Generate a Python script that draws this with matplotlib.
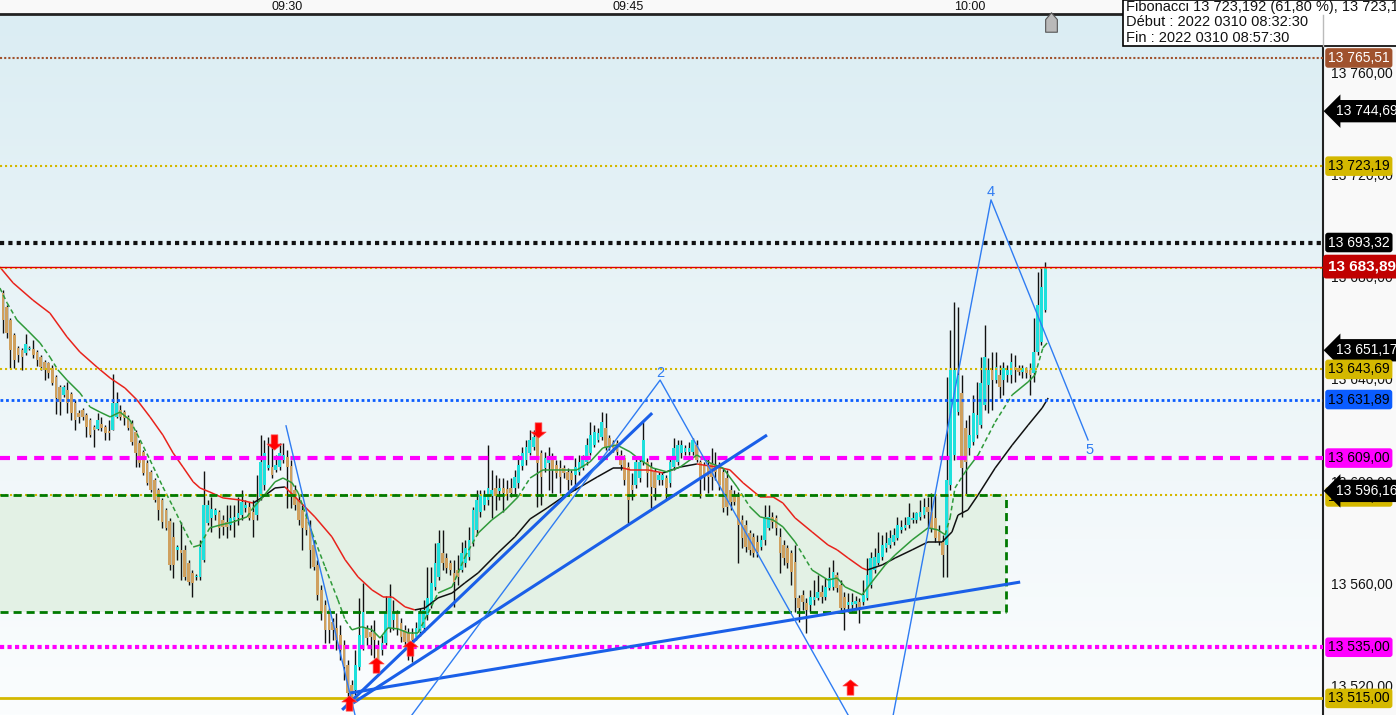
import numpy as np
import matplotlib.pyplot as plt
import matplotlib.transforms as mtransforms
from matplotlib.collections import LineCollection
from matplotlib.colors import LinearSegmentedColormap
from matplotlib.lines import Line2D
from matplotlib.patches import Rectangle
from matplotlib.path import Path

plt.rcParams['font.family'] = ['Liberation Sans', 'DejaVu Sans']

# 10 s candles, first one at 09:17:30
start_sec = 9 * 3600 + 17 * 60 + 30
step_sec = 10
time_labels = ['09:30', '09:45', '10:00']

opens = [13673.6, 13668.1, 13663.0, 13657.1, 13652.1, 13651.3, 13650.1, 13651.7, 13651.7, 13650.5,
         13648.5, 13646.6, 13646.2, 13644.2, 13640.7, 13636.8, 13633.7, 13635.6, 13634.1, 13630.5,
         13626.6, 13627.8, 13625.9, 13623.9, 13621.2, 13620.4, 13622.3, 13621.2, 13619.6, 13620.0,
         13625.1, 13627.8, 13627.0, 13625.1, 13622.7, 13619.2, 13614.9, 13611.4, 13607.1, 13603.6,
         13600.4, 13596.5, 13592.6, 13588.7, 13584.4, 13578.2, 13573.1, 13573.1, 13573.1, 13568.0,
         13564.1, 13562.5, 13562.5, 13569.2, 13583.6, 13585.6, 13586.7, 13587.9, 13584.8, 13584.0,
         13582.8, 13584.8, 13585.6, 13586.7, 13589.5, 13589.9, 13587.9, 13586.7, 13593.8, 13598.5,
         13605.1, 13605.5, 13604.4, 13605.5, 13608.3, 13609.4, 13605.9, 13596.5, 13592.6, 13588.7,
         13585.6, 13582.1, 13575.0, 13567.2, 13557.4, 13551.5, 13549.6, 13544.9, 13542.6, 13539.8,
         13535.9, 13528.1, 13520.3, 13518.3, 13527.3, 13535.9, 13542.6, 13541.0, 13540.6, 13535.9,
         13534.0, 13536.7, 13542.6, 13545.7, 13548.4, 13544.5, 13541.8, 13540.6, 13540.2, 13539.0,
         13541.0, 13542.6, 13547.6, 13551.5, 13558.6, 13562.5, 13571.9, 13569.9, 13568.0, 13564.1,
         13565.2, 13565.2, 13568.0, 13570.3, 13575.8, 13580.9, 13587.9, 13590.7, 13592.6, 13594.2,
         13597.3, 13596.1, 13597.3, 13596.9, 13597.3, 13597.3, 13599.3, 13605.9, 13608.3,
         13611.0, 13613.4, 13618.8, 13611.0, 13605.1, 13607.1, 13608.3, 13606.3, 13605.1, 13605.1,
         13603.6, 13603.2, 13602.4, 13603.6, 13605.1, 13607.5, 13611.0, 13614.1, 13616.1, 13617.3,
         13620.8, 13616.9, 13615.3, 13614.9, 13610.2, 13609.0, 13605.5, 13598.5, 13598.5, 13601.2,
         13607.5, 13607.5, 13605.5, 13603.6, 13600.4, 13600.4, 13601.2, 13599.3, 13605.5, 13607.5,
         13611.0, 13611.4, 13611.4, 13611.4, 13614.1, 13607.5, 13606.3, 13606.3, 13607.1, 13606.3,
         13605.5, 13603.6, 13601.2, 13596.5, 13594.6, 13593.8, 13584.8, 13582.8, 13579.7, 13578.2,
         13576.2, 13574.2, 13577.0, 13581.7, 13586.0, 13585.6, 13578.2, 13575.0, 13573.9, 13571.9,
         13568.4, 13554.3, 13555.5, 13552.3, 13551.5, 13553.5, 13554.3, 13556.6, 13554.7, 13558.2,
         13558.6, 13563.3, 13559.4, 13554.7, 13551.5, 13551.5, 13551.9, 13552.7, 13552.7, 13554.3,
         13559.4, 13565.2, 13568.0, 13570.3, 13573.9, 13575.0, 13576.2, 13577.8, 13580.9, 13581.7,
         13582.8, 13584.8, 13584.8, 13586.0, 13586.7, 13589.9, 13587.9, 13585.6, 13580.1, 13576.2,
         13575.0, 13598.5, 13610.2, 13627.0, 13634.5, 13620.8, 13613.0, 13615.3, 13618.0, 13622.0,
         13629.8, 13637.6, 13643.5, 13639.5, 13641.5, 13639.5, 13641.5, 13641.5, 13644.6, 13644.2,
         13642.7, 13643.5, 13643.5, 13642.3, 13650.5, 13654.4, 13666.9]

highs = [13674.7, 13668.9, 13663.8, 13657.9, 13652.8, 13652.1, 13657.5, 13652.8, 13655.2, 13651.3,
         13649.3, 13647.4, 13646.6, 13645.4, 13641.5, 13637.6, 13637.6, 13638.8, 13634.8, 13631.7,
         13627.8, 13628.6, 13626.6, 13624.7, 13622.0, 13626.6, 13625.1, 13622.0, 13623.9, 13641.9,
         13634.8, 13629.8, 13627.8, 13625.9, 13623.9, 13620.0, 13616.1, 13612.2, 13608.3, 13604.4,
         13601.2, 13597.3, 13593.4, 13589.5, 13585.6, 13584.0, 13575.0, 13584.0, 13575.0, 13569.2,
         13565.2, 13563.7, 13577.0, 13604.0, 13592.6, 13593.8, 13589.5, 13588.7, 13586.7, 13590.7,
         13590.7, 13590.7, 13593.8, 13596.5, 13592.6, 13591.8, 13592.6, 13602.4, 13618.0, 13616.1,
         13617.3, 13616.1, 13610.2, 13614.9, 13614.9, 13612.2, 13608.3, 13598.5, 13594.6, 13590.7,
         13587.9, 13584.8, 13577.0, 13569.2, 13559.4, 13553.5, 13550.4, 13546.5, 13548.4, 13543.7,
         13537.9, 13530.1, 13522.2, 13534.0, 13554.3, 13560.2, 13543.7, 13543.7, 13545.7, 13537.9,
         13539.8, 13555.1, 13559.8, 13553.5, 13549.6, 13546.5, 13543.7, 13542.6, 13542.6, 13544.9,
         13550.4, 13553.5, 13566.4, 13566.4, 13575.8, 13580.9, 13580.9, 13571.9, 13569.2, 13569.2,
         13571.1, 13576.2, 13577.0, 13582.1, 13589.9, 13596.5, 13596.5, 13596.5, 13614.1, 13604.4,
         13602.4, 13601.2, 13601.2, 13600.4, 13601.2, 13604.4, 13610.2, 13613.4, 13616.1,
         13620.0, 13620.0, 13622.0, 13612.2, 13611.4, 13613.4, 13611.0, 13608.3, 13608.3, 13606.3,
         13605.1, 13604.4, 13609.0, 13610.2, 13610.2, 13616.9, 13623.1, 13622.0, 13620.8, 13627.0,
         13626.6, 13618.0, 13616.1, 13616.1, 13612.2, 13610.2, 13607.5, 13603.2, 13609.0, 13609.0,
         13623.1, 13609.0, 13607.5, 13605.1, 13603.6, 13603.6, 13602.4, 13609.0, 13616.9, 13616.1,
         13616.1, 13614.1, 13615.3, 13616.9, 13616.1, 13608.3, 13607.5, 13609.0, 13613.0, 13611.4,
         13607.5, 13605.1, 13604.4, 13598.5, 13596.5, 13595.7, 13586.7, 13584.8, 13580.9, 13579.7,
         13578.9, 13578.9, 13590.7, 13590.7, 13587.9, 13586.7, 13581.7, 13577.0, 13575.0, 13573.1,
         13575.0, 13555.5, 13557.4, 13554.3, 13557.4, 13561.3, 13563.3, 13559.4, 13562.1, 13566.4,
         13569.2, 13564.5, 13561.3, 13556.6, 13556.2, 13556.2, 13555.1, 13554.3, 13561.3, 13569.9,
         13572.3, 13573.9, 13580.1, 13578.9, 13580.1, 13580.9, 13581.7, 13586.0, 13584.8, 13586.0,
         13591.4, 13587.9, 13587.9, 13592.6, 13593.4, 13593.8, 13595.4, 13594.6, 13582.8, 13578.9,
         13640.7, 13659.1, 13670.1, 13668.1, 13641.5, 13623.9, 13625.9, 13633.7, 13638.8, 13648.5,
         13661.1, 13648.2, 13650.5, 13650.5, 13645.4, 13646.6, 13645.4, 13650.1, 13649.3, 13645.4,
         13645.4, 13644.6, 13646.2, 13663.8, 13681.8, 13683.4, 13685.7]

lows = [13657.9, 13656.0, 13644.2, 13644.2, 13646.6, 13643.5, 13649.3, 13651.3, 13648.2, 13645.0,
        13643.5, 13639.5, 13640.3, 13637.6, 13626.2, 13625.9, 13632.9, 13626.6, 13623.9, 13620.0,
        13622.7, 13623.9, 13617.3, 13617.3, 13613.4, 13620.0, 13619.6, 13616.1, 13616.1, 13620.0,
        13624.7, 13623.9, 13622.0, 13620.0, 13614.1, 13605.5, 13605.5, 13602.4, 13598.5, 13595.7,
        13591.8, 13584.8, 13581.7, 13580.9, 13565.2, 13562.1, 13569.2, 13561.3, 13561.3, 13559.4,
        13554.7, 13561.3, 13561.3, 13568.4, 13582.8, 13580.1, 13584.8, 13577.8, 13578.9, 13577.8,
        13580.9, 13578.2, 13582.8, 13584.8, 13587.9, 13584.8, 13578.2, 13584.8, 13592.6, 13596.5,
        13604.4, 13601.2, 13603.6, 13604.4, 13607.1, 13589.5, 13589.5, 13588.7, 13582.8, 13573.1,
        13578.9, 13566.0, 13565.2, 13553.5, 13545.7, 13536.7, 13536.7, 13537.9, 13534.0, 13530.1,
        13522.2, 13515.2, 13512.4, 13516.4, 13526.1, 13534.0, 13535.9, 13532.0, 13530.8, 13525.4,
        13532.0, 13535.9, 13541.0, 13541.8, 13539.8, 13537.1, 13534.7, 13530.1, 13529.3, 13537.9,
        13539.4, 13541.0, 13545.7, 13550.4, 13557.4, 13561.3, 13565.2, 13564.1, 13563.3, 13550.8,
        13559.4, 13564.5, 13566.4, 13569.2, 13574.6, 13578.9, 13586.0, 13588.7, 13590.7, 13585.6,
        13588.7, 13592.6, 13587.9, 13592.6, 13593.8, 13594.6, 13597.3, 13604.4, 13606.3,
        13610.2, 13612.2, 13589.9, 13590.7, 13603.6, 13596.5, 13595.4, 13601.2, 13595.4, 13601.2,
        13596.5, 13598.5, 13596.5, 13602.4, 13604.4, 13606.3, 13610.2, 13613.4, 13615.3, 13616.1,
        13612.2, 13612.2, 13611.4, 13610.2, 13604.4, 13598.5, 13583.6, 13592.6, 13597.3, 13599.7,
        13606.3, 13597.7, 13589.5, 13592.6, 13598.5, 13598.5, 13592.6, 13597.7, 13604.4, 13606.3,
        13609.0, 13610.2, 13610.2, 13610.2, 13607.5, 13593.4, 13596.5, 13595.4, 13596.5, 13600.4,
        13596.5, 13587.9, 13586.7, 13588.7, 13590.7, 13568.0, 13573.9, 13572.3, 13571.1, 13570.3,
        13570.3, 13573.1, 13575.0, 13580.9, 13581.7, 13578.9, 13564.1, 13567.2, 13566.0, 13559.4,
        13548.8, 13544.9, 13549.6, 13540.6, 13548.8, 13551.5, 13553.5, 13552.3, 13553.5, 13557.4,
        13557.4, 13556.6, 13548.8, 13541.8, 13548.8, 13548.8, 13549.6, 13544.5, 13551.5, 13553.5,
        13558.2, 13564.1, 13567.2, 13569.2, 13572.3, 13573.9, 13575.0, 13577.0, 13579.7, 13580.9,
        13581.7, 13583.6, 13583.6, 13584.8, 13585.6, 13581.7, 13580.1, 13576.2, 13575.0, 13562.5,
        13562.5, 13596.5, 13608.3, 13625.9, 13586.0, 13594.6, 13610.2, 13614.1, 13616.9, 13620.8,
        13627.8, 13626.6, 13627.8, 13638.4, 13632.5, 13633.7, 13638.8, 13638.4, 13638.8, 13641.5,
        13640.3, 13640.3, 13633.7, 13638.8, 13649.3, 13653.2, 13666.1]

closes = [13663.0, 13657.9, 13651.3, 13647.4, 13649.3, 13648.5, 13653.6, 13652.1, 13649.3, 13647.4,
          13644.6, 13643.5, 13642.3, 13638.4, 13632.5, 13630.9, 13636.8, 13630.5, 13626.6, 13623.9,
          13625.1, 13625.1, 13621.2, 13618.0, 13620.0, 13623.9, 13620.8, 13618.8, 13618.8, 13630.5,
          13630.5, 13625.1, 13624.7, 13620.8, 13615.3, 13611.0, 13607.1, 13603.2, 13599.3, 13596.5,
          13592.6, 13588.7, 13584.0, 13581.7, 13567.2, 13567.2, 13574.2, 13571.9, 13562.5, 13560.6,
          13560.2, 13562.9, 13574.2, 13590.7, 13590.7, 13589.1, 13588.7, 13581.7, 13582.1, 13582.1,
          13585.6, 13586.0, 13587.5, 13591.8, 13590.7, 13585.6, 13584.8, 13591.8, 13607.5, 13611.0,
          13606.3, 13602.4, 13606.3, 13611.0, 13610.2, 13605.5, 13593.8, 13590.7, 13584.8, 13581.7,
          13580.9, 13573.1, 13566.4, 13555.5, 13548.4, 13541.8, 13541.8, 13541.8, 13537.9, 13534.0,
          13527.3, 13517.1, 13515.6, 13528.1, 13539.8, 13548.8, 13538.6, 13539.0, 13537.9, 13530.1,
          13536.7, 13548.4, 13554.3, 13548.8, 13542.6, 13539.0, 13537.1, 13537.1, 13537.9, 13542.6,
          13548.4, 13549.6, 13554.3, 13560.2, 13568.0, 13575.8, 13568.0, 13566.0, 13565.2, 13560.6,
          13562.5, 13571.9, 13573.9, 13577.0, 13588.7, 13592.6, 13594.6, 13594.6, 13597.3, 13596.5,
          13594.2, 13597.3, 13595.4, 13595.0, 13595.4, 13601.6, 13606.3, 13611.0, 13613.4,
          13616.1, 13617.3, 13607.1, 13601.6, 13609.0, 13609.4, 13604.4, 13603.2, 13601.6, 13603.2,
          13600.4, 13600.4, 13605.5, 13607.5, 13608.3, 13614.1, 13618.0, 13619.2, 13618.8, 13623.1,
          13613.4, 13613.4, 13613.0, 13611.4, 13606.3, 13600.4, 13592.6, 13596.5, 13607.5, 13607.5,
          13616.1, 13603.2, 13597.7, 13597.3, 13602.4, 13602.4, 13597.3, 13607.5, 13613.0, 13614.1,
          13614.1, 13613.0, 13613.0, 13616.1, 13608.3, 13601.6, 13601.6, 13601.6, 13601.6, 13603.6,
          13598.5, 13589.5, 13589.9, 13591.8, 13591.8, 13582.8, 13577.8, 13574.2, 13573.1, 13571.9,
          13572.3, 13577.0, 13586.0, 13586.0, 13584.0, 13581.7, 13571.9, 13570.0, 13568.0, 13564.5,
          13554.3, 13550.4, 13552.7, 13549.6, 13554.7, 13554.7, 13556.6, 13554.7, 13558.6, 13562.1,
          13564.5, 13558.2, 13550.4, 13550.4, 13552.7, 13552.7, 13553.1, 13550.8, 13555.5, 13563.3,
          13569.9, 13570.3, 13571.9, 13575.0, 13575.8, 13577.8, 13578.9, 13582.8, 13582.1, 13582.8,
          13586.0, 13585.6, 13587.5, 13587.9, 13589.9, 13587.9, 13581.7, 13577.8, 13576.2, 13571.1,
          13600.4, 13643.5, 13643.5, 13641.5, 13605.1, 13607.5, 13618.0, 13626.6, 13625.9, 13638.4,
          13648.5, 13643.5, 13639.5, 13644.6, 13636.8, 13644.2, 13643.5, 13646.6, 13643.5, 13642.7,
          13644.2, 13642.3, 13641.5, 13650.5, 13668.9, 13675.9, 13683.9]

# moving averages (candle index, price)
ma_slow_x = [-0.8, 2.7, 7.9, 12.4, 16.9, 20.3, 24.8, 28.3, 32.2, 35.4, 38.8, 42.2, 44.9, 47.5, 50.2, 52.0,
             54.6, 58.1, 62.6, 66.0, 68.6, 71.8, 74.4, 77.9, 82.3, 86.8, 90.3, 93.7, 97.4, 100.3, 102.7,
             106.1, 108.7, 111.4, 114.8, 118.5, 121.9, 125.4, 130.6, 135.1, 139.1, 143.6, 147.8, 152.3,
             156.8, 161.0, 163.6, 165.5, 170.0, 174.2, 178.7, 183.1, 184.7, 188.4, 191.8, 195.3, 199.8,
             203.2, 205.8, 209.0, 213.5, 217.7, 220.1, 223.0, 226.7, 228.0, 232.0, 235.4, 239.9, 244.1,
             247.8, 250.4, 252.0, 254.6, 257.3, 261.8, 266.3, 270.5, 274.2, 275.8]
ma_slow_y = [13683.7, 13677.5, 13670.8, 13665.7, 13656.4, 13650.5, 13644.6, 13640.3, 13636.4, 13631.7,
             13625.1, 13618.0, 13611.0, 13605.5, 13599.7, 13597.3, 13595.7, 13593.4, 13592.6, 13591.4,
             13593.8, 13597.3, 13597.7, 13592.6, 13586.0, 13578.2, 13569.2, 13562.5, 13557.4, 13554.7,
             13554.7, 13550.8, 13549.6, 13550.4, 13554.3, 13556.2, 13560.2, 13564.1, 13571.9, 13578.2,
             13585.2, 13589.5, 13593.8, 13597.7, 13601.6, 13605.1, 13605.1, 13604.4, 13604.4, 13603.2,
             13605.5, 13606.7, 13606.3, 13605.5, 13604.4, 13599.3, 13593.8, 13593.8, 13591.4, 13585.6,
             13580.1, 13575.0, 13573.1, 13569.9, 13566.0, 13565.2, 13567.2, 13569.9, 13573.1, 13576.2,
             13576.2, 13580.1, 13586.7, 13588.7, 13594.6, 13605.1, 13614.1, 13621.9, 13628.6, 13632.5]
ma_fast_x = [-0.8, 1.1, 3.7, 6.4, 9.8, 12.4, 14.5, 16.9, 20.3, 23.0, 25.6, 28.3, 30.9, 33.5, 36.2, 38.8,
             42.2, 44.9, 47.5, 50.2, 52.0, 54.6, 57.3, 60.7, 64.4, 66.0, 68.6, 71.8, 73.9, 76.3, 77.9,
             81.6, 85.0, 88.4, 90.3, 92.1, 94.7, 97.4, 99.5, 101.6, 104.2, 106.9, 109.5, 112.2, 114.8,
             118.5, 121.9, 125.4, 129.0, 132.5, 135.9, 139.1, 142.5, 147.8, 151.5, 154.9, 158.3, 162.0,
             165.5, 168.1, 171.5, 175.2, 178.7, 183.1, 186.6, 190.0, 193.7, 197.1, 199.8, 203.2, 205.8,
             209.0, 213.5, 217.7, 220.1, 222.2, 226.7, 229.3, 232.8, 235.4, 239.9, 244.1, 246.7, 248.6,
             249.9, 251.2, 253.9, 257.3, 261.8, 266.3, 270.5, 272.3, 274.4, 275.5]
ma_fast_y = [13675.5, 13669.7, 13663.0, 13659.1, 13654.0, 13648.5, 13643.5, 13639.5, 13634.5, 13629.0,
             13627.0, 13625.1, 13627.0, 13623.9, 13616.1, 13608.3, 13597.7, 13589.9, 13582.1, 13574.2,
             13575.0, 13581.7, 13582.8, 13584.0, 13586.0, 13589.5, 13593.8, 13599.7, 13601.2, 13599.3,
             13595.4, 13579.7, 13566.4, 13553.5, 13545.7, 13541.8, 13543.0, 13541.8, 13538.6, 13542.6,
             13542.2, 13540.6, 13540.6, 13548.4, 13556.2, 13558.6, 13570.3, 13579.7, 13584.8, 13588.7,
             13593.8, 13601.2, 13604.4, 13604.4, 13604.4, 13607.5, 13613.0, 13614.1, 13611.4, 13608.3,
             13605.1, 13603.6, 13605.5, 13610.2, 13607.1, 13605.1, 13597.7, 13589.9, 13586.0, 13584.8,
             13582.1, 13576.2, 13565.2, 13561.3, 13562.1, 13558.6, 13555.5, 13560.6, 13567.2, 13571.1,
             13577.0, 13581.7, 13580.9, 13579.0, 13585.6, 13597.3, 13603.6, 13610.2, 13623.1, 13633.7,
             13638.8, 13641.5, 13652.1, 13654.0]

# drawn trend lines (candle index, price)
thick_lines = [[(89.5, 13510.5), (171.3, 13626.6)],
               [(92.4, 13513.2), (201.6, 13618.0)],
               [(91.6, 13517.1), (268.4, 13560.5)]]
thin_lines = [[(74.7, 13621.6), (92.9, 13508.5)],
              [(107.9, 13508.5), (173.4, 13639.5), (223.0, 13508.5)],
              [(234.9, 13508.5), (260.7, 13710.0), (286.3, 13616.1)]]
wave_labels = ['2', '4', '5']
wave_x = [173.4, 260.7, 286.6]
wave_y = [13642.4, 13713.1, 13612.2]

sell_x = [71.5, 141.2]
sell_y = [13615.3, 13620.1]
buy_x = [91.2, 98.5, 107.4, 223.5]
buy_y = [13513.2, 13528.1, 13534.7, 13519.5]

zone_top, zone_bottom, zone_end = 13594.6, 13548.8, 264.7

y_ticks = [13520, 13560, 13600, 13640, 13680, 13720, 13760]


def fmt(v):
    return f"{v:,.2f}".replace(',', ' ').replace('.', ',')


W, H = 1396, 715
fig = plt.figure(figsize=(W / 100, H / 100), dpi=100)
fig.patch.set_facecolor('#f9f9f9')
ax = fig.add_axes([0, 0, 1323 / W, 1 - 14 / H])
xlim = (-0.77, 348.3)
ylim = (13508.5, 13782.7)
ax.set_xlim(*xlim)
ax.set_ylim(*ylim)

# background gradient
bg = LinearSegmentedColormap.from_list('bg', ['#dbedf3', '#ecf5f8', '#fbfdfe'])
ax.imshow(np.linspace(0, 1, 256)[:, None], cmap=bg, aspect='auto',
          extent=[xlim[0], xlim[1], ylim[0], ylim[1]], origin='upper', zorder=0)

# green zone
ax.add_patch(Rectangle((xlim[0], zone_bottom), zone_end - xlim[0], zone_top - zone_bottom,
                       fc='#e3f1e5', ec='none', zorder=1))

# candles
x = np.arange(len(closes))
o = np.array(opens)
c = np.array(closes)
ax.vlines(x, lows, highs, color='#111111', lw=1.0, zorder=3)
body_lo = np.minimum(o, c)
body_h = np.maximum(np.abs(c - o), 0.5)
cols = np.where(c >= o, '#1ee0dc', '#cfa05e')
ax.bar(x, body_h, 0.72, bottom=body_lo, color=cols, linewidth=0, zorder=4)

# slow average: red when falling, black when rising
pts = np.column_stack([ma_slow_x, ma_slow_y])
segs = np.stack([pts[:-1], pts[1:]], axis=1)
seg_cols = []
last = '#e8231c'
for dy in np.diff(ma_slow_y):
    if dy < 0:
        last = '#e8231c'
    elif dy > 0:
        last = '#111111'
    seg_cols.append(last)
ax.add_collection(LineCollection(segs, colors=seg_cols, linewidths=1.1, zorder=5))

# fast average: dashed on the steep parts
pts = np.column_stack([ma_fast_x, ma_fast_y])
segs = np.stack([pts[:-1], pts[1:]], axis=1)
slope = np.abs(np.diff(ma_fast_y) / np.diff(ma_fast_x))
styles = [(0, (3, 2)) if s > 2.0 else 'solid' for s in slope]
ax.add_collection(LineCollection(segs, colors='#2f9a3a', linewidths=1.1, linestyles=styles, zorder=5))

# horizontal levels
ax.axhline(13765.51, color='#a0522d', lw=1.5, ls=(0, (1, 1)), zorder=6)
ax.axhline(13723.19, color='#d4b800', lw=1.5, ls=(0, (1, 1.4)), zorder=6)
ax.axhline(13693.32, color='#111111', lw=3, ls=(0, (1, 1)), zorder=6)
ax.axhline(13683.3, color='#d4b800', lw=1.5, ls=(0, (1, 1.4)), zorder=6)
ax.axhline(13683.89, color='#e00000', lw=1.0, zorder=6)
ax.axhline(13643.69, color='#d4b800', lw=1.5, ls=(0, (1, 1.4)), zorder=6)
ax.axhline(13631.89, color='#0a5cff', lw=2, ls=(0, (1, 1)), zorder=6)
ax.axhline(13609.00, color='#ff00ff', lw=3, ls=(0, (2.4, 1.7)), zorder=6)
ax.axhline(zone_top, color='#d4b800', lw=1.5, ls=(0, (1, 1.4)), zorder=6)
ax.axhline(13535.00, color='#ff00ff', lw=3, ls=(0, (1, 0.8)), zorder=6)
ax.axhline(13515.00, color='#d4b800', lw=2, zorder=6)

# zone borders
zone_ls = (0, (2.9, 1.8))
ax.plot([xlim[0], zone_end], [zone_top, zone_top], color='#007a00', lw=2, ls=zone_ls, zorder=6)
ax.plot([xlim[0], zone_end], [zone_bottom, zone_bottom], color='#007a00', lw=2, ls=zone_ls, zorder=6)
ax.plot([zone_end, zone_end], [zone_bottom, zone_top], color='#007a00', lw=2, ls=zone_ls, zorder=6)

# trend lines
for ln in thick_lines:
    xs, ys = zip(*ln)
    ax.plot(xs, ys, color='#1a5fe8', lw=2.2, zorder=7, solid_capstyle='butt')
for ln in thin_lines:
    xs, ys = zip(*ln)
    ax.plot(xs, ys, color='#2f7cf2', lw=1.0, zorder=7)
for t, tx, ty in zip(wave_labels, wave_x, wave_y):
    ax.text(tx, ty, t, color='#2f7cf2', fontsize=10.5, ha='center', va='center', zorder=8)

# signal arrows
up_path = Path([(0, 0.5), (0.5, 0.1), (0.22, 0.1), (0.22, -0.5), (-0.22, -0.5), (-0.22, 0.1),
                (-0.5, 0.1), (0, 0.5)],
               [Path.MOVETO] + [Path.LINETO] * 6 + [Path.CLOSEPOLY])
down_path = Path(up_path.vertices * [1, -1], up_path.codes)
ax.plot(buy_x, buy_y, ls='none', marker=up_path, ms=11, color='#ff0000', mec='#ff5050', mew=0.5, zorder=8)
ax.plot(sell_x, sell_y, ls='none', marker=down_path, ms=11, color='#ff0000', mec='#ff5050', mew=0.5, zorder=8)

tab_path = Path([(-0.3, -0.5), (0.3, -0.5), (0.3, 0.15), (0, 0.5), (-0.3, 0.15), (-0.3, -0.5)],
                [Path.MOVETO] + [Path.LINETO] * 4 + [Path.CLOSEPOLY])
ax.plot([276.5], [13779.7], ls='none', marker=tab_path, ms=14, color='#b9b9b9', mec='#555555', mew=0.8,
        zorder=8, clip_on=False)

# axes frame
for s in ['left', 'bottom']:
    ax.spines[s].set_visible(False)
ax.spines['top'].set_linewidth(2)
ax.spines['top'].set_color('#222222')
ax.spines['right'].set_linewidth(1.5)
ax.spines['right'].set_color('#222222')

ax.yaxis.tick_right()
ax.set_yticks(y_ticks)
ax.set_yticklabels([fmt(v) for v in y_ticks])
ax.tick_params(axis='y', length=0, pad=6, labelsize=10, labelcolor='#111111')
ax.xaxis.tick_top()
tick_pos = []
for lab in time_labels:
    hh, mm = lab.split(':')
    tick_pos.append((int(hh) * 3600 + int(mm) * 60 - start_sec) / step_sec)
ax.set_xticks(tick_pos)
ax.set_xticklabels(time_labels)
ax.tick_params(axis='x', length=0, pad=1, labelsize=9, labelcolor='#111111')

# price tags on the right scale
blend = mtransforms.blended_transform_factory(ax.transAxes, ax.transData)


def tag(v, face, tcol, arrow=False, bold=False, size=10, pad=0.2):
    if arrow:
        ax.text(1 + 13 / 1323, v, fmt(v), transform=blend, ha='left', va='center', color=tcol,
                fontsize=size, clip_on=False, zorder=9,
                bbox=dict(boxstyle='larrow,pad=0.3', fc=face, ec='none'))
    else:
        ax.text(1 + 5 / 1323, v, fmt(v), transform=blend, ha='left', va='center', color=tcol,
                fontsize=size, fontweight='bold' if bold else 'normal', clip_on=False, zorder=9,
                bbox=dict(boxstyle=f'round,pad={pad},rounding_size=0.2', fc=face, ec='none'))


tag(13765.51, '#a0522d', 'white')
tag(13744.69, '#000000', 'white', arrow=True)
tag(13723.19, '#d4b800', 'black')
tag(13693.32, '#000000', 'white')
tag(13683.89, '#c00000', 'white', bold=True, size=11, pad=0.32)
tag(13651.17, '#000000', 'white', arrow=True)
tag(13643.69, '#d4b800', 'black')
tag(13631.89, '#0a5cff', 'black')
tag(13609.00, '#ff00ff', 'black')
tag(13593.80, '#d4b800', 'black')
tag(13596.16, '#000000', 'white', arrow=True)
tag(13535.00, '#ff00ff', 'black')
tag(13515.00, '#d4b800', 'black')

# info box, top right
fig.add_artist(Rectangle((1123 / W, 1 - 46 / H), 280 / W, 46 / H, transform=fig.transFigure,
                         fc='white', ec='black', lw=1.2, zorder=10))
fig.add_artist(Line2D([1323 / W, 1323 / W], [1 - 46 / H, 1 - 15 / H], transform=fig.transFigure,
                      color='#bbbbbb', lw=1, zorder=11))
info = ['Fibonacci 13 723,192 (61,80 %), 13 723,19',
        'Début : 2022 0310 08:32:30',
        'Fin : 2022 0310 08:57:30']
for i, line in enumerate(info):
    fig.text(1126 / W, 1 - (7 + 15.5 * i) / H, line, ha='left', va='center', fontsize=10.5,
             color='#111111', zorder=12)

fig.savefig('out.png', dpi=100)
